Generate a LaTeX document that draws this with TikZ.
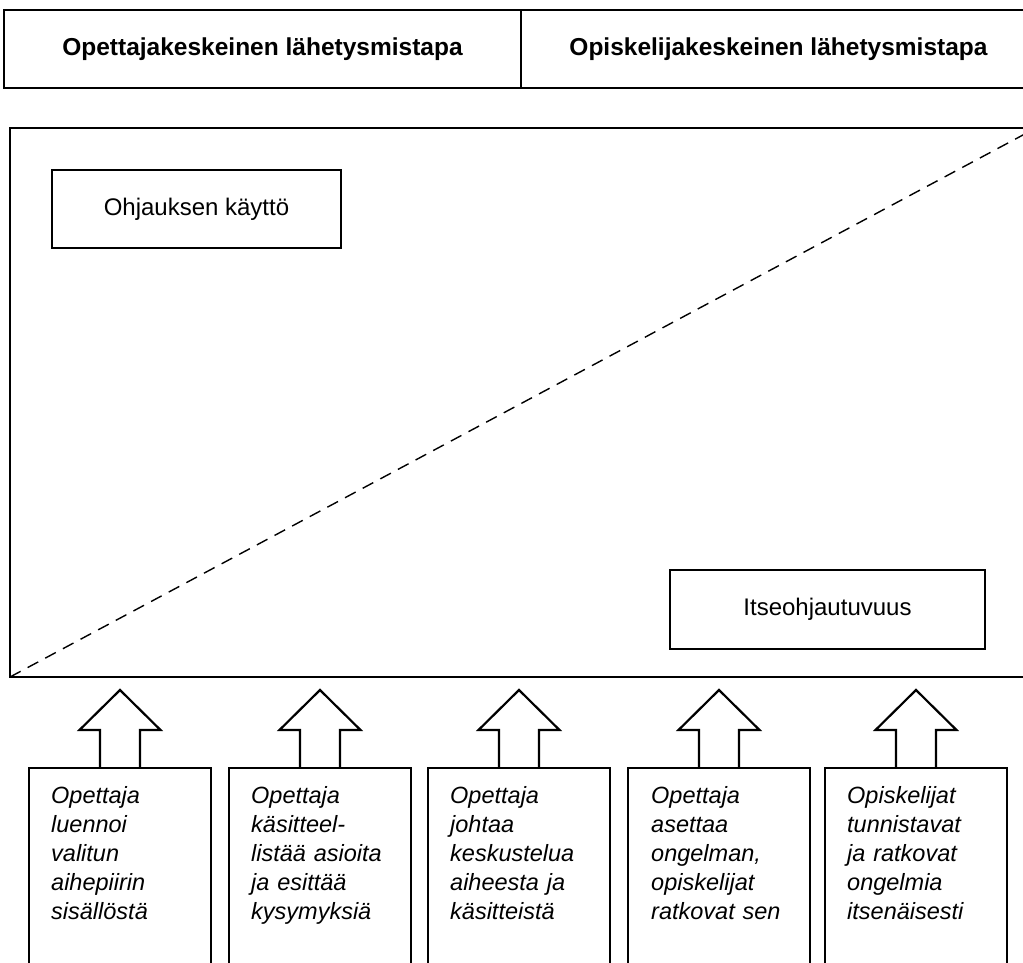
\documentclass[tikz,border=0pt]{standalone}
\usepackage{fontspec}
\setmainfont{Liberation Sans}
\usepackage{tikz}

\begin{document}
\begin{tikzpicture}[x=1pt, y=-1pt,
	hdr/.style={draw, line width=2.2pt, outer sep=0pt, minimum height=78pt, font=\fontsize{24.5}{29}\selectfont\bfseries},
	frame/.style={draw, line width=2.4pt, outer sep=0pt},
	lblbox/.style={draw, line width=2.2pt, outer sep=0pt, font=\fontsize{24}{29}\selectfont},
	actbox/.style={draw, line width=2.2pt, outer sep=0pt, anchor=north west, minimum width=182pt, minimum height=240pt},
	acttext/.style={anchor=base west, inner sep=0pt, text width=160pt, align=left, font=\fontsize{23.5}{29}\selectfont\itshape},
	blockarrow/.style={line width=2.2pt, line join=miter},
	guide/.style={line width=1.4pt, dash pattern=on 12pt off 8pt}]
			\useasboundingbox (0,0) rectangle (1023,962);
			\clip (0,0) rectangle (1023,962);
			\node[hdr, minimum width=517pt] (tcm) at (262.5,49) {Opettajakeskeinen lähetysmistapa};
			\node[hdr, minimum width=515pt] (scm) at (778.5,49) {Opiskelijakeskeinen lähetysmistapa};
			\node[frame, minimum width=1026pt, minimum height=549pt] (frame) at (523,402.5) {};
			\draw[guide] (frame.south west) -- (frame.north east);
			\node[lblbox, minimum width=289pt, minimum height=78pt] (steer) at (196.5,209) {Ohjauksen käyttö};
			\node[lblbox, minimum width=315pt, minimum height=79pt] (selfdir) at (827.5,609.5) {Itseohjautuvuus};
			\node[actbox] (b1) at (29,768) {};
			\node[actbox] (b2) at (229,768) {};
			\node[actbox] (b3) at (428,768) {};
			\node[actbox] (b4) at (628,768) {};
			\node[actbox] (b5) at (825,768) {};
			\node[acttext] (t1) at (51,803) {Opettaja\\luennoi\\valitun\\aihepiirin\\sisällöstä};
			\node[acttext] (t2) at (251,803) {Opettaja\\käsitteel-\\listää asioita\\ja esittää\\kysymyksiä};
			\node[acttext] (t3) at (450,803) {Opettaja\\johtaa\\keskustelua\\aiheesta ja\\käsitteistä};
			\node[acttext] (t4) at (651,803) {Opettaja\\asettaa\\ongelman,\\opiskelijat\\ratkovat sen};
			\node[acttext] (t5) at (847,803) {Opiskelijat\\tunnistavat\\ja ratkovat\\ongelmia\\itsenäisesti};
			\foreach \b in {b1,b2,b3,b4,b5}
				\draw[blockarrow] (\b.north) ++(-20,0) -- ++(0,-38) -- ++(-20.5,0) -- ++(40.5,-40) -- ++(40.5,40) -- ++(-20.5,0) -- ++(0,38);
		\end{tikzpicture}
\end{document}
